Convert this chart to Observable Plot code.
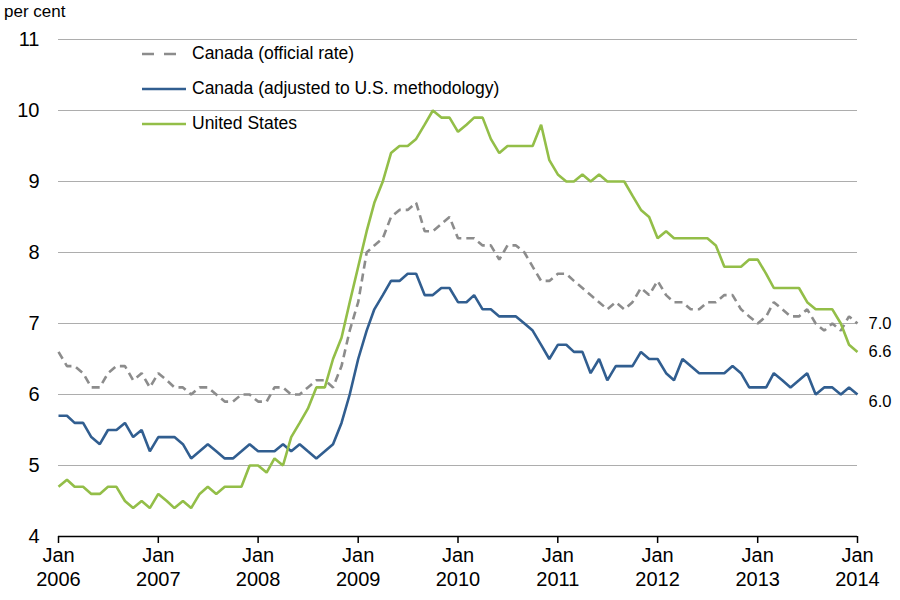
<!DOCTYPE html>
<html>
<head>
<meta charset="utf-8">
<script src="https://cdn.jsdelivr.net/npm/d3@7"></script>
<script src="https://cdn.jsdelivr.net/npm/@observablehq/plot@0.6"></script>
<style>
  body { margin: 0; background: #fff; font-family: "Liberation Sans", Arial, sans-serif; color: #000; }
  #wrap { position: relative; width: 900px; height: 600px; }
  #unit { position: absolute; left: 4px; top: 2px; font-size: 17px; }
  #legend { position: absolute; left: 142px; top: 36px; }
  .item { display: flex; align-items: center; height: 35px; font-size: 17.5px; white-space: nowrap; }
  .item svg { margin-right: 6px; }
</style>
</head>
<body>
<div id="wrap">
  <div id="chart"></div>
  <div id="unit">per cent</div>
  <div id="legend"></div>
</div>
<script>
// Monthly unemployment rates, Jan 2006 – Jan 2014 (per cent)
const official = [
  6.6, 6.4, 6.4, 6.3, 6.1, 6.1, 6.3, 6.4, 6.4, 6.2, 6.3, 6.1,
  6.3, 6.2, 6.1, 6.1, 6.0, 6.1, 6.1, 6.0, 5.9, 5.9, 6.0, 6.0,
  5.9, 5.9, 6.1, 6.1, 6.0, 6.0, 6.1, 6.2, 6.2, 6.1, 6.4, 6.9,
  7.3, 8.0, 8.1, 8.2, 8.5, 8.6, 8.6, 8.7, 8.3, 8.3, 8.4, 8.5,
  8.2, 8.2, 8.2, 8.1, 8.1, 7.9, 8.1, 8.1, 8.0, 7.8, 7.6, 7.6,
  7.7, 7.7, 7.6, 7.5, 7.4, 7.3, 7.2, 7.3, 7.2, 7.3, 7.5, 7.4,
  7.6, 7.4, 7.3, 7.3, 7.2, 7.2, 7.3, 7.3, 7.4, 7.4, 7.2, 7.1,
  7.0, 7.1, 7.3, 7.2, 7.1, 7.1, 7.2, 7.0, 6.9, 7.0, 6.9, 7.1,
  7.0
];
const adjusted = [
  5.7, 5.7, 5.6, 5.6, 5.4, 5.3, 5.5, 5.5, 5.6, 5.4, 5.5, 5.2,
  5.4, 5.4, 5.4, 5.3, 5.1, 5.2, 5.3, 5.2, 5.1, 5.1, 5.2, 5.3,
  5.2, 5.2, 5.2, 5.3, 5.2, 5.3, 5.2, 5.1, 5.2, 5.3, 5.6, 6.0,
  6.5, 6.9, 7.2, 7.4, 7.6, 7.6, 7.7, 7.7, 7.4, 7.4, 7.5, 7.5,
  7.3, 7.3, 7.4, 7.2, 7.2, 7.1, 7.1, 7.1, 7.0, 6.9, 6.7, 6.5,
  6.7, 6.7, 6.6, 6.6, 6.3, 6.5, 6.2, 6.4, 6.4, 6.4, 6.6, 6.5,
  6.5, 6.3, 6.2, 6.5, 6.4, 6.3, 6.3, 6.3, 6.3, 6.4, 6.3, 6.1,
  6.1, 6.1, 6.3, 6.2, 6.1, 6.2, 6.3, 6.0, 6.1, 6.1, 6.0, 6.1,
  6.0
];
const unitedStates = [
  4.7, 4.8, 4.7, 4.7, 4.6, 4.6, 4.7, 4.7, 4.5, 4.4, 4.5, 4.4,
  4.6, 4.5, 4.4, 4.5, 4.4, 4.6, 4.7, 4.6, 4.7, 4.7, 4.7, 5.0,
  5.0, 4.9, 5.1, 5.0, 5.4, 5.6, 5.8, 6.1, 6.1, 6.5, 6.8, 7.3,
  7.8, 8.3, 8.7, 9.0, 9.4, 9.5, 9.5, 9.6, 9.8, 10.0, 9.9, 9.9,
  9.7, 9.8, 9.9, 9.9, 9.6, 9.4, 9.5, 9.5, 9.5, 9.5, 9.8, 9.3,
  9.1, 9.0, 9.0, 9.1, 9.0, 9.1, 9.0, 9.0, 9.0, 8.8, 8.6, 8.5,
  8.2, 8.3, 8.2, 8.2, 8.2, 8.2, 8.2, 8.1, 7.8, 7.8, 7.8, 7.9,
  7.9, 7.7, 7.5, 7.5, 7.5, 7.5, 7.3, 7.2, 7.2, 7.2, 7.0, 6.7,
  6.6
];
const seriesNames = ["Canada (official rate)", "Canada (adjusted to U.S. methodology)", "United States"];
const yTicks = [4, 5, 6, 7, 8, 9, 10, 11];
const tickYears = [2006, 2007, 2008, 2009, 2010, 2011, 2012, 2013, 2014];
const firstMonth = [2006, 0];
const lastMonth = [2014, 0];

// styles
const colors = ["#8C8C8C", "#315E90", "#93BE48"];
const dashes = ["8,5", null, null];
const legendDash = ["12,10", null, null];

const months = d3.utcMonth.range(
  new Date(Date.UTC(firstMonth[0], firstMonth[1], 1)),
  d3.utcMonth.offset(new Date(Date.UTC(lastMonth[0], lastMonth[1], 1)), 1)
);
const allValues = [official, adjusted, unitedStates];
const rows = allValues.map((vals, s) => vals.map((v, i) => ({date: months[i], value: v, series: seriesNames[s]})));
const xTicks = tickYears.map(y => new Date(Date.UTC(y, 0, 1)));
const ends = rows.map(r => r[r.length - 1]);

const narrow = "'Liberation Sans Narrow', 'Arial Narrow', 'Liberation Sans', Arial, sans-serif";

const chart = Plot.plot({
  width: 900,
  height: 600,
  marginLeft: 58,
  marginRight: 43,
  marginTop: 39,
  marginBottom: 64,
  style: {fontFamily: "'Liberation Sans', Arial, sans-serif", background: "#fff", overflow: "visible", color: "#000"},
  x: {type: "utc", domain: [months[0], months[months.length - 1]]},
  y: {domain: [4, 11]},
  marks: [
    Plot.gridY(yTicks.filter(d => d > 4), {stroke: "#ADADAD", strokeOpacity: 1, strokeWidth: 1}),
    Plot.ruleY([4], {stroke: "#000", strokeWidth: 1.5}),
    Plot.axisY(yTicks, {tickSize: 0, tickPadding: 19, fontSize: 20, label: null, tickFormat: d => String(d)}),
    Plot.axisX(xTicks, {
      tickSize: 7, tickPadding: 1, fontSize: 20, lineHeight: 1.2, label: null,
      strokeWidth: 1.5, fontFamily: narrow,
      tickFormat: d => `Jan\n${d.getUTCFullYear()}`
    }),
    ...rows.map((r, s) => Plot.lineY(r, {
      x: "date", y: "value", stroke: colors[s], strokeWidth: 2.6,
      strokeDasharray: dashes[s], strokeLinejoin: "miter", strokeLinecap: "butt"
    })),
    Plot.text([ends[0]], {x: "date", y: "value", text: d => d.value.toFixed(1), dx: 11, textAnchor: "start", fontSize: 16.5}),
    Plot.text([ends[2]], {x: "date", y: "value", text: d => d.value.toFixed(1), dx: 11, textAnchor: "start", fontSize: 16.5}),
    Plot.text([ends[1]], {x: "date", y: "value", text: d => d.value.toFixed(1), dx: 11, dy: 1, lineAnchor: "top", textAnchor: "start", fontSize: 16.5})
  ]
});
document.getElementById("chart").appendChild(chart);

// legend
const legend = document.getElementById("legend");
seriesNames.forEach((name, s) => {
  const item = document.createElement("div");
  item.className = "item";
  const dash = legendDash[s] ? ` stroke-dasharray="${legendDash[s]}"` : "";
  item.innerHTML = `<svg width="44" height="6"><line x1="0" y1="3" x2="44" y2="3" stroke="${colors[s]}" stroke-width="2.6"${dash}/></svg><span>${name}</span>`;
  legend.appendChild(item);
});
</script>
</body>
</html>
